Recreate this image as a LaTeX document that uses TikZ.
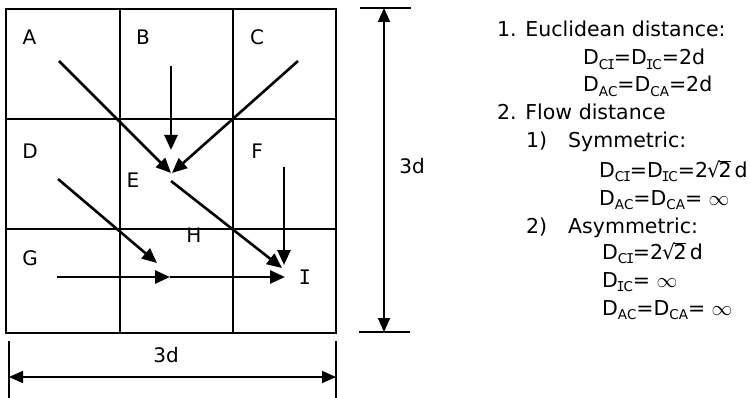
\documentclass[tikz,border=0pt]{standalone}
\usepackage{fontspec}
\setmainfont{DejaVu Sans}
\newfontfamily\monofam{DejaVu Sans Mono}
\usetikzlibrary{arrows.meta}
\newcommand\ssb[1]{\raisebox{-0.22em}{\fontsize{13.5}{13.5}\selectfont #1}}
\newcommand\sI{{\kern-1.3pt\monofam I\kern-1.3pt}}
\newcommand\rtwo{\kern-1pt √\kern-1.5pt\rlap{\rule[15.4pt]{12.5pt}{0.9pt}}2\kern3pt}
\begin{document}
\begin{tikzpicture}[x=1pt,y=-1pt,
  gridline/.style={line width=1.4pt},
  flow/.style={line width=2.6pt,-{Triangle[length=15pt,width=13pt]}},
  dimarrow/.style={line width=1.7pt,{Triangle[length=14pt,width=12pt]}-{Triangle[length=14pt,width=12pt]}},
  dimtick/.style={line width=1.7pt},
  cell/.style={inner sep=0pt,font=\fontsize{20}{24}\selectfont},
  txt/.style={inner sep=0pt,anchor=base west,font=\fontsize{20.5}{24}\selectfont}]
\useasboundingbox (0,0) rectangle (751,398);
% grid
\draw[gridline] (6,9) rectangle (336,333);
\draw[gridline] (120,9) -- (120,333);
\draw[gridline] (233,9) -- (233,333);
\draw[gridline] (6,119) -- (336,119);
\draw[gridline] (6,229) -- (336,229);
% cell labels
\node[cell] (A) at (29.5,37) {A};
\node[cell] (B) at (143,37) {B};
\node[cell] (C) at (257,37) {C};
\node[cell] (D) at (30,151) {D};
\node[cell] (E) at (133,180) {E};
\node[cell] (F) at (257,151) {F};
\node[cell] (G) at (30,258) {G};
\node[cell] (H) at (194,235) {H};
\node[cell] (I) at (305,277) {{\monofam I}};
% arrow endpoints
\coordinate (a0) at (59,61);
\coordinate (e1) at (171,173);
\coordinate (b0) at (171,66);
\coordinate (b1) at (171,150);
\coordinate (c0) at (298,61);
\coordinate (e2) at (172,173);
\coordinate (e0) at (171,181);
\coordinate (i1) at (282,268);
\coordinate (f0) at (284,167);
\coordinate (f1) at (284,265);
\coordinate (d0) at (58,179);
\coordinate (h1) at (157,263);
\coordinate (g0) at (57,277);
\coordinate (h0) at (170,277);
\coordinate (i2) at (285,277);
\draw[flow] (a0) -- (e1);
\draw[flow] (b0) -- (b1);
\draw[flow] (c0) -- (e2);
\draw[flow] (e0) -- (i1);
\draw[flow] (f0) -- (f1);
\draw[flow] (d0) -- (h1);
\draw[flow] (g0) -- (h0);
\draw[flow] (h0) -- (i2);
% bottom dimension
\coordinate (bl0) at (9,341); \coordinate (bl1) at (9,398);
\coordinate (br0) at (336,341); \coordinate (br1) at (336,398);
\coordinate (bla) at (9,377); \coordinate (bra) at (336,377);
\draw[dimtick] (bl0) -- (bl1);
\draw[dimtick] (br0) -- (br1);
\draw[dimarrow] (bla) -- (bra);
\node[cell] (wlab) at (166,355) {3d};
% right dimension
\coordinate (rt0) at (360,8); \coordinate (rt1) at (411,8);
\coordinate (rb0) at (359,332); \coordinate (rb1) at (410,332);
\coordinate (rta) at (384,8); \coordinate (rba) at (384,332);
\draw[dimtick] (rt0) -- (rt1);
\draw[dimtick] (rb0) -- (rb1);
\draw[dimarrow] (rta) -- (rba);
\node[cell] (hlab) at (412,166) {3d};
% text
\node[txt] (t1) at (497,37) {1. Euclidean distance:};
\node[txt] (t2) at (583,65) {D\ssb{C\sI}=D\ssb{\sI C}=2d};
\node[txt] (t3) at (583,92) {D\ssb{AC}=D\ssb{CA}=2d};
\node[txt] (t4) at (497,120) {2. Flow distance};
\node[txt] (t5a) at (526,148) {1)};
\node[txt] (t5b) at (568,148) {Symmetric:};
\node[txt] (t6) at (599,177) {D\ssb{C\sI}=D\ssb{\sI C}=2\rtwo d};
\node[txt] (t7) at (599,205) {D\ssb{AC}=D\ssb{CA}= $\infty$};
\node[txt] (t8a) at (526,233) {2)};
\node[txt] (t8b) at (568,233) {Asymmetric:};
\node[txt] (t9) at (602,259) {D\ssb{C\sI}=2\rtwo d};
\node[txt] (t10) at (602,287) {D\ssb{\sI C}= $\infty$};
\node[txt] (t11) at (602,315) {D\ssb{AC}=D\ssb{CA}= $\infty$};
\end{tikzpicture}
\end{document}
